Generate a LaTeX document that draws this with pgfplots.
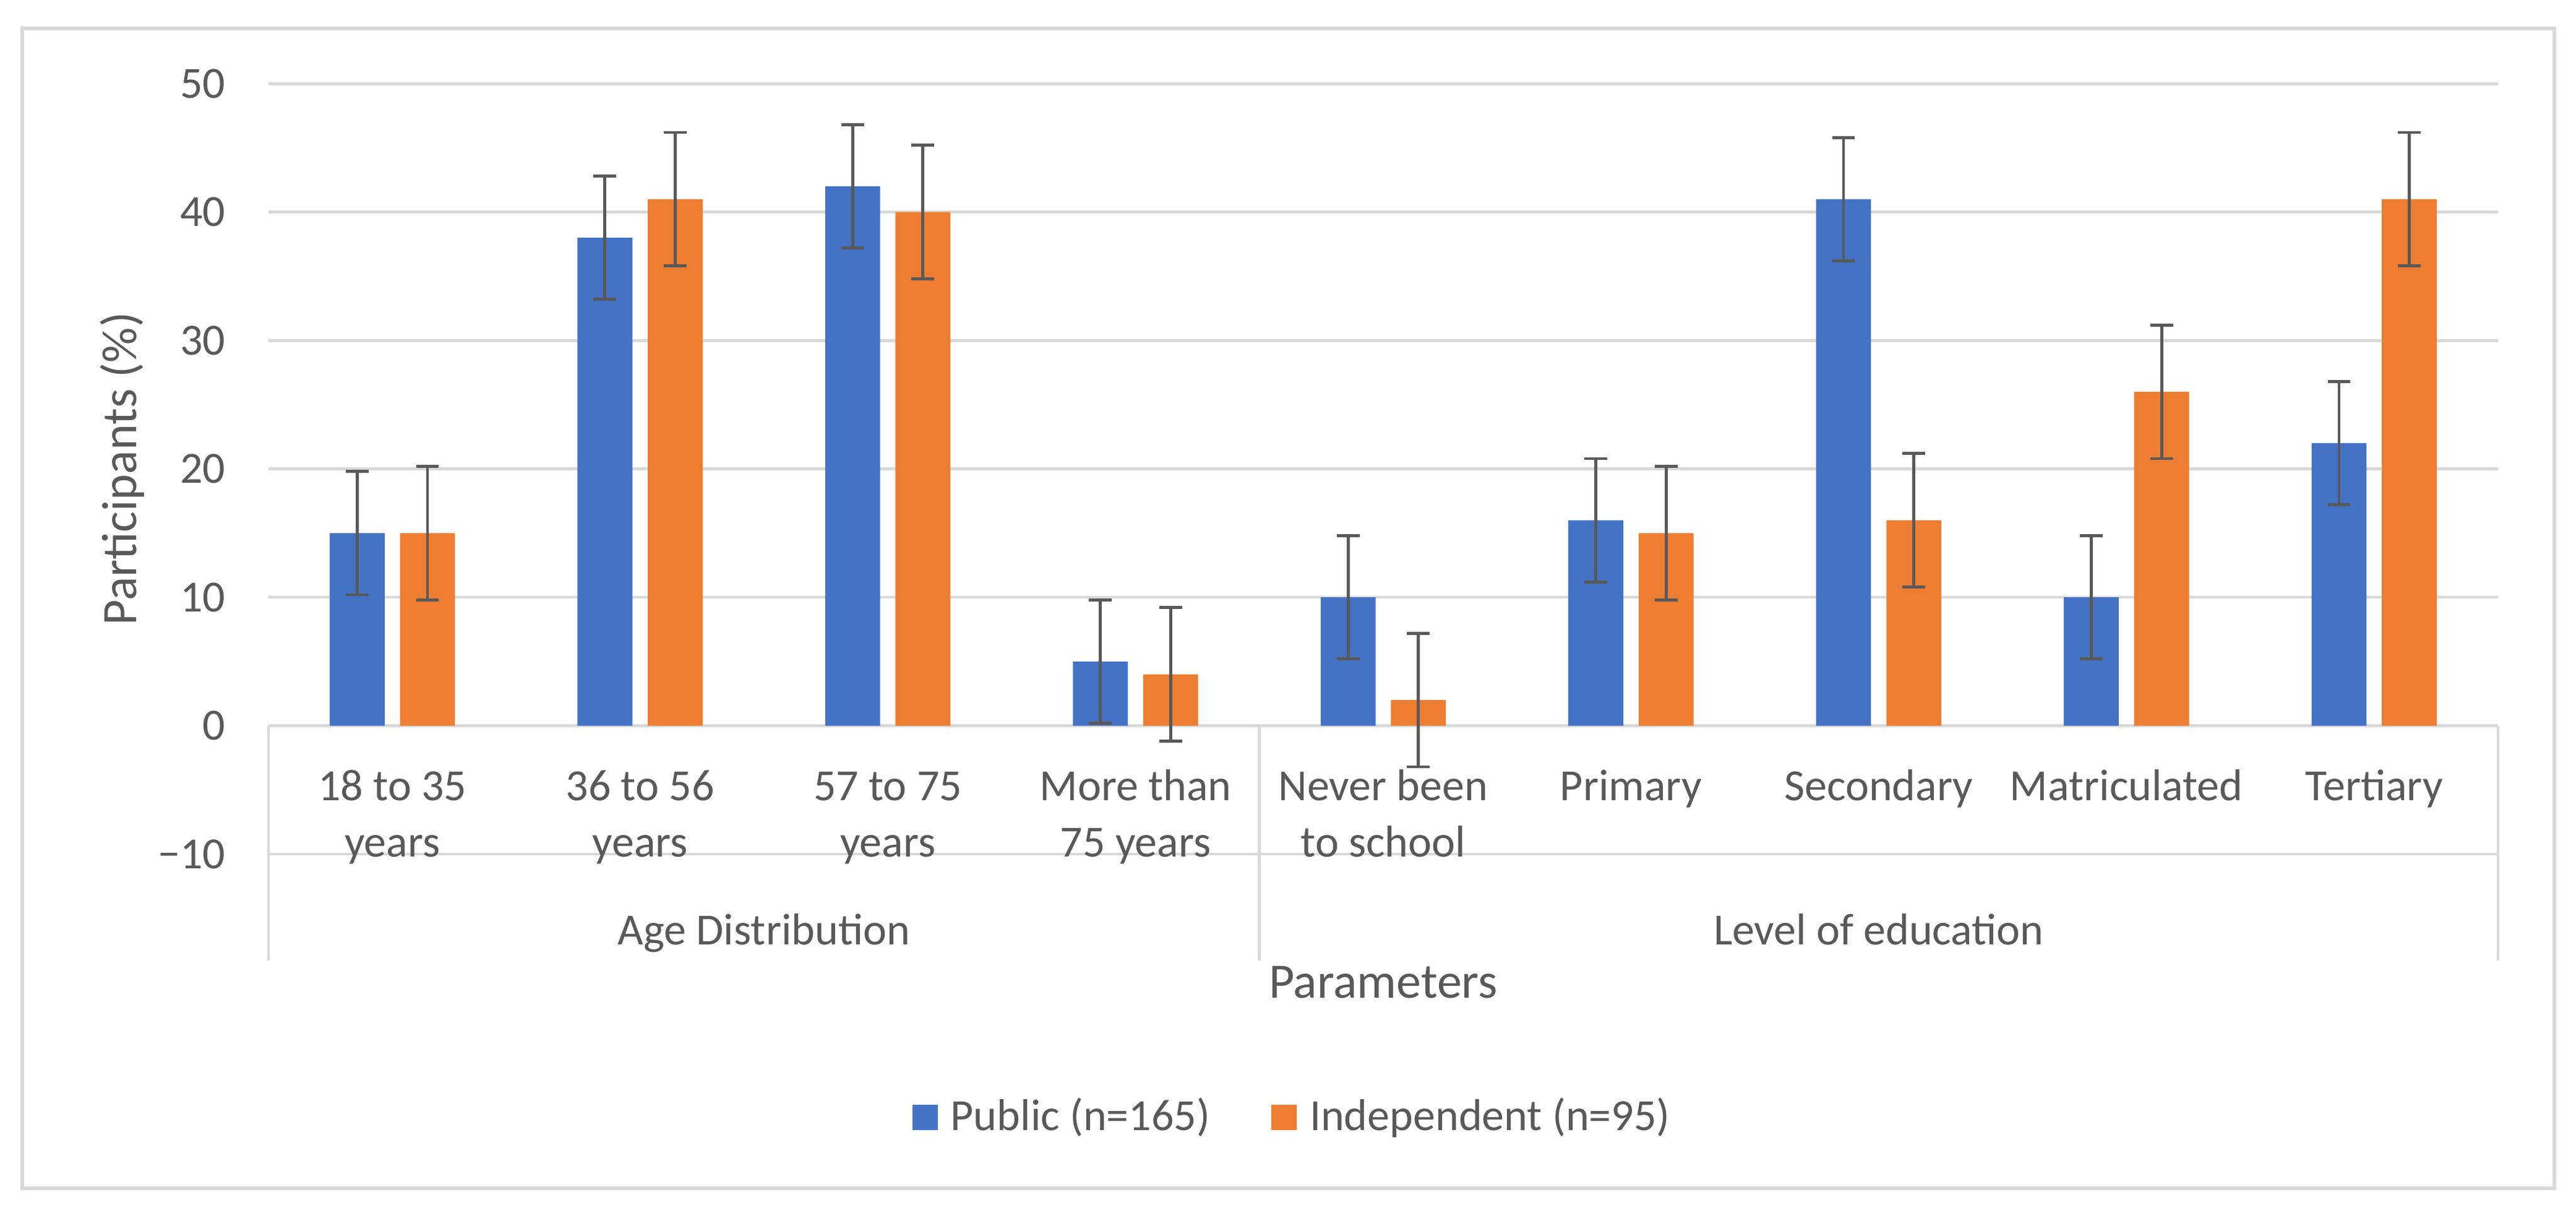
\documentclass[border=0pt]{standalone}
\usepackage{pgfplots}
\pgfplotsset{compat=1.18}
\usepackage{fontspec}
\setmainfont{Carlito}
\definecolor{xblue}{HTML}{4472C4}
\definecolor{xorange}{HTML}{ED7D31}
\definecolor{xgrid}{HTML}{D9D9D9}
\definecolor{xtext}{HTML}{595959}
\newcommand{\tk}{\fontsize{9}{11}\selectfont}
\newcommand{\tl}{\fontsize{10}{12}\selectfont}
\begin{document}
\begin{tikzpicture}
\begin{axis}[
  name=ax, at={(0,0)}, anchor=south west,
  scale only axis, width=450.5pt, height=155.6pt,
  xmin=-0.5, xmax=8.5, ymin=-10, ymax=50,
  ybar, bar width=11.1pt,
  xtick=\empty,
  ytick={-10,0,10,20,30,40,50},
  yticklabels={−10,0,10,20,30,40,50},
  ymajorgrids, grid style={xgrid, line width=0.6pt},
  axis line style={draw=none}, major tick length=0pt,
  yticklabel style={anchor=east, inner sep=0pt, xshift=-8.5pt, font=\tk, text=xtext},
  clip=false,
  legend style={at={(axis description cs:0.461,-0.342)}, anchor=center, draw=none, fill=none,
    font=\tk, text=xtext,
    /tikz/every odd column/.append style={column sep=0.6pt},
    /tikz/every even column/.append style={column sep=10.4pt}},
  legend columns=2,
  legend image code/.code={\fill[#1] (0pt,-2.55pt) rectangle (5.1pt,2.55pt);},
]
\addplot[fill=xblue, draw=none, bar shift=-7.1pt,
  error bars/.cd, y dir=both, y fixed=4.8,
  error bar style={draw=xtext, line width=0.6pt},
  error mark options={rotate=90, mark size=2.3pt, draw=xtext, line width=0.6pt}]
  coordinates {(0,15) (1,38) (2,42) (3,5) (4,10) (5,16) (6,41) (7,10) (8,22)};
\addlegendentry{Public (n=165)}
\addplot[fill=xorange, draw=none, bar shift=7.1pt,
  error bars/.cd, y dir=both, y fixed=5.2,
  error bar style={draw=xtext, line width=0.6pt},
  error mark options={rotate=90, mark size=2.3pt, draw=xtext, line width=0.6pt}]
  coordinates {(0,15) (1,41) (2,40) (3,4) (4,2) (5,15) (6,16) (7,26) (8,41)};
\addlegendentry{Independent (n=95)}
% multi-level category axis lines
\draw[xgrid, line width=0.6pt] (axis cs:-0.5,0) -- (axis cs:-0.5,-18.3);
\draw[xgrid, line width=0.6pt] (axis cs:3.5,0) -- (axis cs:3.5,-18.3);
\draw[xgrid, line width=0.6pt] (axis cs:8.5,0) -- (axis cs:8.5,-18.3);
% category labels
\begin{scope}[every node/.style={anchor=base, inner sep=0pt, font=\tk, text=xtext}]
\node at (axis cs:0,-5.83) {18 to 35};
\node at (axis cs:0,-10.21) {years};
\node at (axis cs:1,-5.83) {36 to 56};
\node at (axis cs:1,-10.21) {years};
\node at (axis cs:2,-5.83) {57 to 75};
\node at (axis cs:2,-10.21) {years};
\node at (axis cs:3,-5.83) {More than};
\node at (axis cs:3,-10.21) {75 years};
\node at (axis cs:4,-5.83) {Never been};
\node at (axis cs:4,-10.21) {to school};
\node at (axis cs:5,-5.83) {Primary};
\node at (axis cs:6,-5.83) {Secondary};
\node at (axis cs:7,-5.83) {Matriculated};
\node at (axis cs:8,-5.83) {Tertiary};
\node at (axis cs:1.5,-17.06) {Age Distribution};
\node at (axis cs:6,-17.06) {Level of education};
\end{scope}
\node[anchor=base, inner sep=0pt, font=\tl, text=xtext] at (axis cs:4,-21.2) {Parameters};
\node[rotate=90, anchor=center, inner sep=0pt, font=\tl, text=xtext] at (axis description cs:-0.0657,0.5) {Participants (\%)};
\end{axis}
\draw[xgrid, line width=0.75pt] (-49.75pt,-67.5pt) rectangle (461.9pt,166.75pt);
\pgfresetboundingbox
\path[use as bounding box] (-54.25pt,-73.5pt) rectangle (466.25pt,172.5pt);
\end{tikzpicture}
\end{document}
